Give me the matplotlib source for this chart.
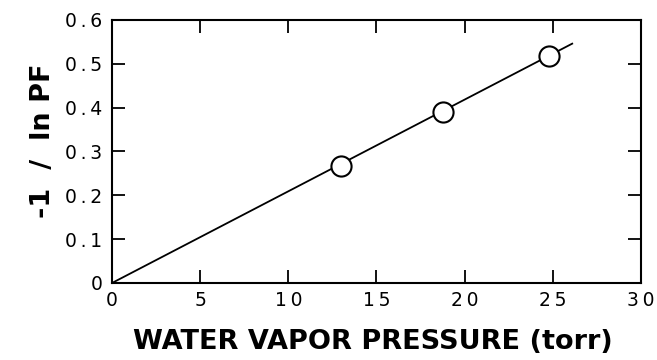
import matplotlib
matplotlib.use("Agg")
import matplotlib.pyplot as plt

pressure = [13.0, 18.75, 24.8]
inv_ln_pf = [0.267, 0.39, 0.518]
fit_x = [0.0, 26.1]
fit_y = [0.0, 0.546]
xticks = [0, 5, 10, 15, 20, 25, 30]
yticks = [0, 0.1, 0.2, 0.3, 0.4, 0.5, 0.6]
xticklabels = ["0", "5", "10", "15", "20", "25", "30"]
yticklabels = ["0", "0.1", "0.2", "0.3", "0.4", "0.5", "0.6"]

TS = "\u2009"  # thin space used as letter spacing
def spaced(s):
    return TS.join(s)

plt.rcParams['font.family'] = ['DejaVu Sans']

fig = plt.figure(figsize=(6.57, 3.6), dpi=100)
ax = fig.add_axes([0.1705, 0.2139, 0.8051, 0.7306])
ax.plot(fit_x, fit_y, color='black', lw=1.3, zorder=2)
ax.plot(pressure, inv_ln_pf, 'o', ms=14.5, mfc='white', mec='black', mew=1.5, zorder=3)

ax.set_xlim(0, 30)
ax.set_ylim(0, 0.6)
ax.set_xticks(xticks)
ax.set_xticklabels([spaced(t) for t in xticklabels])
ax.set_yticks(yticks)
ax.set_yticklabels([spaced(t) for t in yticklabels])
ax.tick_params(direction='in', length=9.5, width=1.3, top=True, right=True,
               labelsize=13.5, pad=6)
ax.tick_params(axis='y', pad=7)
for s in ax.spines.values():
    s.set_linewidth(1.5)

ax.set_xlabel("WATER VAPOR PRESSURE (torr)", fontsize=19.5, fontweight='bold')
ax.xaxis.set_label_coords(0.494, -0.175)
ax.set_ylabel("-1  /  ln PF", fontsize=19.5, fontweight='bold')
ax.yaxis.set_label_coords(-0.105, 0.54)

fig.savefig("out.png", dpi=100)
